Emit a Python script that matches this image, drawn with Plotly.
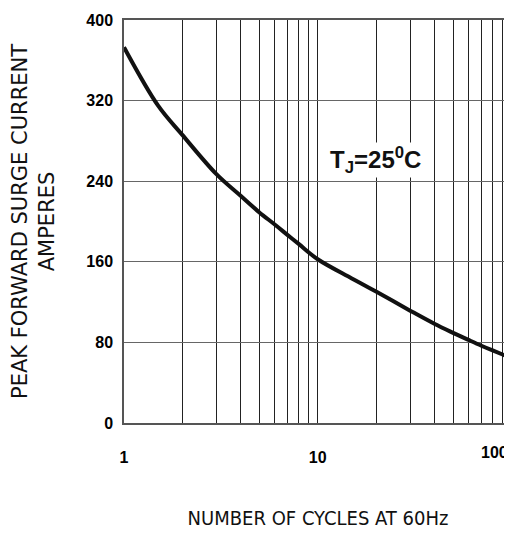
import plotly.graph_objects as go

cycles = [1, 1.5, 2, 3, 4, 5, 6, 7, 8, 10, 15, 20, 30, 40, 50, 60, 70, 80, 90, 100]
amps = [373, 315, 286, 247, 225.5, 209, 197, 186.5, 177.5, 162.5, 143.5, 130.5,
        111.5, 98.5, 89.5, 82.5, 76.7, 72, 68, 64.3]

x_grid = [1, 2, 3, 4, 5, 6, 7, 8, 9, 10, 20, 30, 40, 50, 60, 70, 80, 90, 100]
x_labels = {1: "1", 10: "10"}
y_ticks = [0, 80, 160, 240, 320, 400]

tickfam = "Liberation Sans, Arial, sans-serif"
condensed = "DejaVu Sans Condensed, Liberation Sans, sans-serif"
wide = "DejaVu Sans, Verdana, sans-serif"

fig = go.Figure()
fig.add_trace(go.Scatter(x=cycles, y=amps, mode="lines",
                         line=dict(color="#111", width=4, shape="spline", smoothing=1),
                         showlegend=False, hoverinfo="skip"))

# page body has an 8px margin, so the figure is 8px smaller and offset
fig.update_layout(
    width=504, height=525,
    margin=dict(l=116, r=0, t=12, b=110),
    plot_bgcolor="white", paper_bgcolor="white",
    xaxis=dict(type="log", range=[0, 2.003], automargin=False,
               tickvals=x_grid, ticktext=[x_labels.get(v, "") for v in x_grid],
               showgrid=True, gridcolor="#222", gridwidth=1,
               showline=True, linecolor="#555", linewidth=1.5, mirror=True,
               ticks="", ticklabelstandoff=19,
               tickfont=dict(family=tickfam, size=16, color="black", weight="bold"),
               title=dict(text="NUMBER OF CYCLES AT 60Hz",
                          font=dict(family=condensed, size=20, color="#111"),
                          standoff=46),
               zeroline=False),
    yaxis=dict(range=[0, 400], tickvals=y_ticks, automargin=False,
               showgrid=True, gridcolor="#666", gridwidth=1,
               showline=True, linecolor="#555", linewidth=1.5, mirror=True,
               ticks="", ticklabelstandoff=6,
               tickfont=dict(family=tickfam, size=16, color="black", weight="bold"),
               title=dict(text="PEAK FORWARD SURGE CURRENT<br>AMPERES",
                          font=dict(family=wide, size=21, color="#111"),
                          standoff=36),
               zeroline=False),
)

fig.add_annotation(x=2, y=0, xref="x", yref="y", text="100", showarrow=False,
                   xshift=-17, yshift=-29, yanchor="middle",
                   font=dict(family=tickfam, size=16, color="black", weight="bold"))

fig.add_annotation(x=1.296, y=261, xref="x", yref="y",
                   text="T<sub>J</sub>=25<sup>0</sup>C", showarrow=False,
                   bgcolor="white", borderpad=0,
                   font=dict(family=tickfam, size=24, color="#111", weight="bold"))

fig.write_html("out.html")
